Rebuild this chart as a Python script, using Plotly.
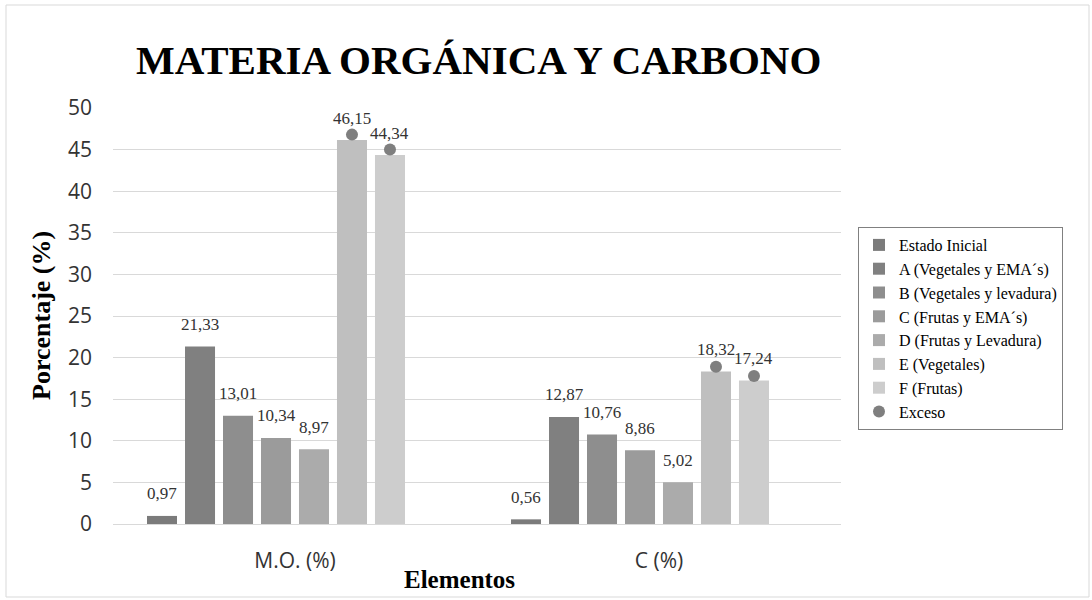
import plotly.graph_objects as go

# --- data ---
categories = ["M.O. (%)", "C (%)"]
series_names = [
    "Estado Inicial",
    "A (Vegetales y EMA´s)",
    "B (Vegetales y levadura)",
    "C (Frutas y EMA´s)",
    "D (Frutas y Levadura)",
    "E (Vegetales)",
    "F (Frutas)",
]
series_values = [
    [0.97, 0.56],
    [21.33, 12.87],
    [13.01, 10.76],
    [10.34, 8.86],
    [8.97, 5.02],
    [46.15, 18.32],
    [44.34, 17.24],
]
exceso_series = ["E (Vegetales)", "F (Frutas)"]
exceso_values = [[46.8, 18.9], [45.0, 17.8]]
y_ticks = [0, 5, 10, 15, 20, 25, 30, 35, 40, 45, 50]

# --- styling ---
bar_colors = ["#7b7b7b", "#808080", "#8e8e8e", "#9b9b9b", "#ababab", "#bfbfbf", "#cdcdcd"]
dot_color = "#7f7f7f"
serif = "Liberation Serif"
sans = "Open Sans"

BARGAP = 0.165
BARGROUPGAP = 0.21
N_SLOTS = len(series_names) + 1  # the last slot belongs to the Exceso series
slot = (1 - BARGAP) / N_SLOTS


def slot_x(cat_idx, slot_idx):
    return cat_idx - (1 - BARGAP) / 2 + (slot_idx + 0.5) * slot


def fmt(v):
    return f"{v:.2f}".replace(".", ",")


xs = list(range(len(categories)))
fig = go.Figure()

for i, (name, vals) in enumerate(zip(series_names, series_values)):
    fig.add_trace(go.Bar(
        x=xs, y=vals, name=name,
        marker=dict(color=bar_colors[i], line=dict(width=0)),
    ))

# placeholder bar keeps the Exceso slot in each group
fig.add_trace(go.Bar(x=xs, y=[0, 0], showlegend=False, hoverinfo="skip",
                     marker=dict(color="rgba(0,0,0,0)", line=dict(width=0))))

# Exceso markers over E and F
dot_x, dot_y = [], []
for name, vals in zip(exceso_series, exceso_values):
    s = series_names.index(name)
    for c, v in enumerate(vals):
        dot_x.append(slot_x(c, s))
        dot_y.append(v)
fig.add_trace(go.Scatter(
    x=dot_x, y=dot_y, mode="markers", name="Exceso",
    marker=dict(color=dot_color, size=12, line=dict(width=0)),
))

L, T, W, H = 113, 108, 728, 416


def px_x(p):
    return (p - L) / W


def px_y(p):
    return (T + H - p) / H


annotations = []
for s, vals in enumerate(series_values):
    for c, v in enumerate(vals):
        annotations.append(dict(
            x=slot_x(c, s), y=v, xref="x", yref="y", text=fmt(v),
            showarrow=False, yanchor="middle", yshift=22,
            font=dict(family=serif, size=17, color="#333333"),
        ))

annotations.append(dict(
    text="<b>Porcentaje (%)</b>", xref="paper", yref="paper",
    x=px_x(41), y=0.5, xanchor="center", yanchor="middle",
    textangle=-90, showarrow=False,
    font=dict(family=serif, size=26, color="#000000"),
))
annotations.append(dict(
    text="<b>Elementos</b>", xref="paper", yref="paper",
    x=px_x(459), y=px_y(579), xanchor="center", yanchor="middle",
    showarrow=False,
    font=dict(family=serif, size=25, color="#000000"),
))
annotations.append(dict(
    text="<b>MATERIA ORGÁNICA Y CARBONO</b>", xref="paper", yref="paper",
    x=px_x(478), y=px_y(60), xanchor="center", yanchor="middle",
    showarrow=False,
    font=dict(family=serif, size=41, color="#000000"),
))

fig.update_layout(
    width=1092, height=600,
    margin=dict(l=L, r=1092 - L - W, t=T, b=600 - T - H),
    paper_bgcolor="white", plot_bgcolor="white",
    barmode="group", bargap=BARGAP, bargroupgap=BARGROUPGAP,
    annotations=annotations,
    legend=dict(
        x=px_x(858), y=px_y(227), xanchor="left", yanchor="top",
        bordercolor="#808080", borderwidth=1, bgcolor="white",
        font=dict(family=serif, size=16, color="#000000"),
        itemwidth=30, tracegroupgap=0,
    ),
    shapes=[dict(type="rect", xref="paper", yref="paper",
                 x0=px_x(6), x1=px_x(1089), y0=px_y(597), y1=px_y(5),
                 line=dict(color="#d9d9d9", width=1), layer="below")],
    showlegend=True,
)

fig.update_xaxes(
    range=[-0.5, 1.5], tickvals=xs, ticktext=categories,
    showgrid=False, zeroline=False, showline=True, linecolor="#d9d9d9", linewidth=1,
    ticks="", ticklabelstandoff=18,
    tickfont=dict(family=sans, size=21, color="#333333"),
)
fig.update_yaxes(
    range=[0, 50], tickvals=y_ticks,
    showgrid=True, gridcolor="#d9d9d9", gridwidth=1,
    zeroline=False, showline=False, ticks="", ticklabelstandoff=20,
    tickfont=dict(family=sans, size=21, color="#333333"),
)

fig.write_html("out.html")
